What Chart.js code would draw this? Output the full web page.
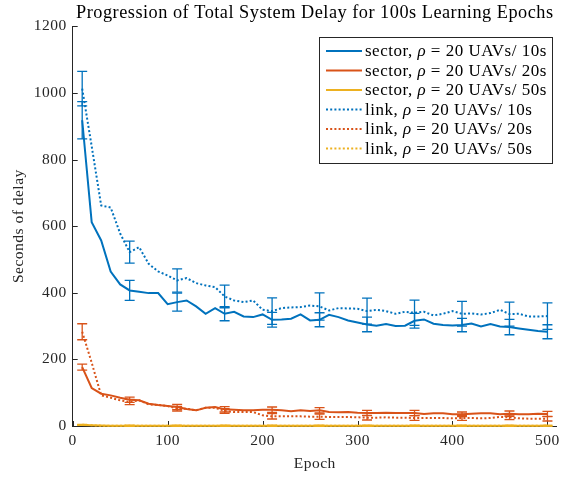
<!DOCTYPE html>
<html>
<head>
<meta charset="utf-8">
<title>Total System Delay</title>
<script src="https://cdn.jsdelivr.net/npm/chart.js@4.4.1/dist/chart.umd.min.js"></script>
<style>
  html, body { margin: 0; padding: 0; background: #ffffff; }
  #wrap { width: 566px; height: 477px; }
</style>
</head>
<body>
<div id="wrap"><canvas id="delayChart"></canvas></div>
<script>
// epochs sampled every 10
const epochs = [10, 20, 30, 40, 50, 60, 70, 80, 90, 100,
  110, 120, 130, 140, 150, 160, 170, 180, 190, 200,
  210, 220, 230, 240, 250, 260, 270, 280, 290, 300,
  310, 320, 330, 340, 350, 360, 370, 380, 390, 400,
  410, 420, 430, 440, 450, 460, 470, 480, 490, 500];

const sector10 = [918, 612, 557, 464, 425, 407, 403, 399, 399, 366,
  372, 377, 359, 337, 354, 337, 343, 329, 327, 335,
  319, 320, 322, 335, 317, 319, 334, 327, 317, 311,
  305, 301, 306, 300, 301, 316, 320, 307, 303, 302,
  303, 308, 299, 306, 299, 297, 293, 289, 285, 283];
const sector20 = [177, 114, 97, 92, 85, 79, 77, 67, 63, 60,
  57, 51, 47, 55, 57, 50, 49, 47, 47, 49,
  49, 47, 44, 47, 45, 47, 42, 41, 42, 40,
  39, 39, 40, 39, 39, 39, 36, 38, 38, 35,
  35, 37, 38, 38, 35, 37, 35, 35, 37, 36];
const sector50 = [3, 2, 1.5, 1, 1, 1, 1, 1, 1, 1,
  1, 1, 1, 1, 1, 1, 1, 1, 1, 1,
  1, 1, 1, 1, 1, 1, 1, 1, 1, 1,
  1, 1, 1, 1, 1, 1, 1, 1, 1, 1,
  1, 1, 1, 1, 1, 1, 1, 1, 1, 1];
const link10 = [1013, 840, 662, 656, 578, 522, 537, 487, 464, 452,
  437, 444, 429, 422, 417, 389, 377, 372, 377, 349,
  345, 354, 356, 357, 362, 359, 347, 354, 353, 352,
  345, 349, 345, 337, 343, 340, 343, 332, 337, 345,
  337, 338, 335, 339, 349, 336, 337, 329, 329, 330];
const link20 = [283, 190, 92, 85, 77, 72, 77, 65, 63, 60,
  52, 52, 47, 55, 55, 45, 42, 42, 42, 32,
  29, 29, 29, 29, 28, 28, 27, 27, 27, 26,
  25, 25, 26, 25, 25, 24, 24, 24, 24, 23,
  24, 24, 23, 24, 27, 26, 23, 22, 22, 22];
const link50 = [4, 2, 1, 1, 1, 1, 1, 1, 1, 1,
  1, 1, 1, 1, 1, 1, 1, 1, 1, 1,
  1, 1, 1, 1, 1, 1, 1, 1, 1, 1,
  1, 1, 1, 1, 1, 1, 1, 1, 1, 1,
  1, 1, 1, 1, 1, 1, 1, 1, 1, 1];

// half-width of the error bars, drawn at these epochs only
const errEpochs = [10, 60, 110, 160, 210, 260, 310, 360, 410, 460, 500];
const sector10Err = [56, 30, 27, 21, 22, 21, 22, 22, 20, 23, 21];
const sector20Err = [9, 8, 8, 8, 8, 8, 8, 8, 7, 8, 8];
const sector50Err = [1, 1, 1, 1, 1, 1, 1, 1, 1, 1, 1];
const link10Err = [52, 33, 35, 34, 40, 41, 39, 38, 37, 36, 40];
const link20Err = [24, 8, 7, 7, 8, 8, 7, 7, 7, 7, 7];
const link50Err = [1, 1, 1, 1, 1, 1, 1, 1, 1, 1, 1];

const xTicks = [0, 100, 200, 300, 400, 500];
const yTicks = [0, 200, 400, 600, 800, 1000, 1200];

const BLUE = "#0072BD";
const ORANGE = "#D95319";
const YELLOW = "#EDB120";
const AXIS = "#262626";
const FONT = "'Liberation Serif', 'Times New Roman', serif";

function series(label, values, errs, color, dotted) {
  return {
    label: label,
    data: epochs.map((e, i) => ({ x: e, y: values[i] })),
    errors: errs,
    borderColor: color,
    backgroundColor: color,
    borderWidth: 2,
    borderDash: dotted ? [2, 2.2] : [],
    borderCapStyle: "butt",
    pointRadius: 0,
    tension: 0,
    fill: false,
    clip: 4,
  };
}

const datasets = [
  series("sector, ρ = 20 UAVs/ 10s", sector10, sector10Err, BLUE, false),
  series("sector, ρ = 20 UAVs/ 20s", sector20, sector20Err, ORANGE, false),
  series("sector, ρ = 20 UAVs/ 50s", sector50, sector50Err, YELLOW, false),
  series("link, ρ = 20 UAVs/ 10s", link10, link10Err, BLUE, true),
  series("link, ρ = 20 UAVs/ 20s", link20, link20Err, ORANGE, true),
  series("link, ρ = 20 UAVs/ 50s", link50, link50Err, YELLOW, true),
];
// first series drawn first, last on top
datasets.forEach((d, i) => { d.order = datasets.length - i; });

// a touch of tracking so the serif text runs as wide as TeX type
const spacing = {
  id: "spacing",
  beforeLayout(chart) { chart.ctx.letterSpacing = "0.5px"; },
  beforeDraw(chart) { chart.ctx.letterSpacing = "0.5px"; },
};

// inward tick marks on the left and bottom axes
const innerTicks = {
  id: "innerTicks",
  beforeDatasetsDraw(chart) {
    const { ctx, chartArea, scales } = chart;
    ctx.save();
    ctx.strokeStyle = AXIS;
    ctx.lineWidth = 1;
    ctx.beginPath();
    scales.x.ticks.forEach(t => {
      const px = Math.round(scales.x.getPixelForValue(t.value)) + 0.5;
      ctx.moveTo(px, chartArea.bottom);
      ctx.lineTo(px, chartArea.bottom - 5);
    });
    scales.y.ticks.forEach(t => {
      const py = Math.round(scales.y.getPixelForValue(t.value)) + 0.5;
      ctx.moveTo(chartArea.left, py);
      ctx.lineTo(chartArea.left + 5, py);
    });
    ctx.stroke();
    ctx.restore();
  },
};

const errorBars = {
  id: "errorBars",
  afterDatasetsDraw(chart) {
    const { ctx, scales: { x, y } } = chart;
    chart.data.datasets.forEach(ds => {
      ctx.save();
      ctx.strokeStyle = ds.borderColor;
      ctx.lineWidth = 1.3;
      ctx.setLineDash([]);
      ctx.beginPath();
      errEpochs.forEach((ep, i) => {
        const pt = ds.data[epochs.indexOf(ep)];
        const px = x.getPixelForValue(ep);
        const top = y.getPixelForValue(pt.y + ds.errors[i]);
        const bot = y.getPixelForValue(pt.y - ds.errors[i]);
        ctx.moveTo(px, top);
        ctx.lineTo(px, bot);
        ctx.moveTo(px - 5, top);
        ctx.lineTo(px + 5, top);
        ctx.moveTo(px - 5, bot);
        ctx.lineTo(px + 5, bot);
      });
      ctx.stroke();
      ctx.restore();
    });
  },
};

// boxed legend in the upper right of the plot
const boxLegend = {
  id: "boxLegend",
  afterDraw(chart) {
    const { ctx } = chart;
    const box = { left: 319.5, top: 37.5, right: 552.5, bottom: 163.5 };
    ctx.save();
    ctx.fillStyle = "#ffffff";
    ctx.fillRect(box.left, box.top, box.right - box.left, box.bottom - box.top);
    ctx.strokeStyle = AXIS;
    ctx.lineWidth = 1;
    ctx.strokeRect(box.left, box.top, box.right - box.left, box.bottom - box.top);
    ctx.textBaseline = "middle";
    ctx.textAlign = "left";
    chart.data.datasets.forEach((ds, i) => {
      const cy = 51 + i * 19.5;
      ctx.strokeStyle = ds.borderColor;
      ctx.lineWidth = 2;
      ctx.lineCap = "butt";
      ctx.setLineDash(ds.borderDash);
      ctx.beginPath();
      ctx.moveTo(326, cy);
      ctx.lineTo(362, cy);
      ctx.stroke();
      ctx.setLineDash([]);
      // the rho is set in italic
      const parts = ds.label.split("ρ");
      let tx = 365;
      ctx.fillStyle = "#000000";
      ctx.font = "17px " + FONT;
      ctx.fillText(parts[0], tx, cy + 1);
      tx += ctx.measureText(parts[0]).width;
      ctx.font = "italic 17px " + FONT;
      ctx.fillText("ρ", tx, cy + 1);
      tx += ctx.measureText("ρ").width;
      ctx.font = "17px " + FONT;
      ctx.fillText(parts[1], tx, cy + 1);
    });
    ctx.restore();
  },
};

new Chart(document.getElementById("delayChart"), {
  type: "line",
  data: { datasets: datasets },
  plugins: [spacing, innerTicks, errorBars, boxLegend],
  options: {
    responsive: true,
    maintainAspectRatio: false,
    animation: false,
    layout: { padding: { left: 0, right: 3, top: 0, bottom: 0 } },
    scales: {
      x: {
        type: "linear",
        min: 0,
        max: 510,
        afterBuildTicks(scale) { scale.ticks = xTicks.map(v => ({ value: v })); },
        afterFit(scale) { scale.height = 51; },
        grid: { display: false, drawTicks: false },
        border: { display: true, color: AXIS, width: 1 },
        ticks: {
          color: AXIS,
          padding: 6,
          maxRotation: 0,
          font: { family: FONT, size: 15.5 },
        },
        title: {
          display: true,
          text: "Epoch",
          color: AXIS,
          padding: { top: 0, bottom: 4 },
          font: { family: FONT, size: 15.5 },
        },
      },
      y: {
        type: "linear",
        min: 0,
        max: 1200,
        afterBuildTicks(scale) { scale.ticks = yTicks.map(v => ({ value: v })); },
        afterFit(scale) { scale.width = 72.7; },
        grid: { display: false, drawTicks: false },
        border: { display: true, color: AXIS, width: 1 },
        ticks: {
          color: AXIS,
          padding: 6,
          callback: v => String(v),
          font: { family: FONT, size: 15.5 },
        },
        title: {
          display: true,
          text: "Seconds of delay",
          color: AXIS,
          padding: { top: 10, bottom: 0 },
          font: { family: FONT, size: 15.5 },
        },
      },
    },
    plugins: {
      legend: { display: false },
      tooltip: { enabled: false },
      title: {
        display: true,
        fullSize: false,
        text: "Progression of Total System Delay for 100s Learning Epochs",
        color: "#000000",
        padding: { top: 2, bottom: 2.4 },
        font: { family: FONT, size: 18.3, weight: "normal" },
      },
    },
  },
});
</script>
</body>
</html>
